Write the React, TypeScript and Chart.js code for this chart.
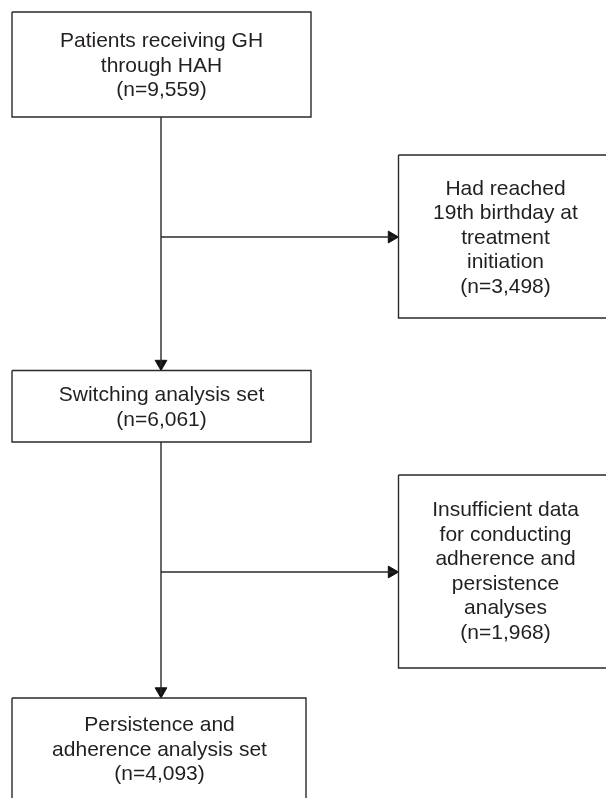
import React, { useEffect, useRef } from 'react';
import Chart from 'chart.js/auto';

// ---- content ----
const stepTitles: string[][] = [
  ['Patients receiving GH', 'through HAH'],
  ['Had reached', '19th birthday at', 'treatment', 'initiation'],
  ['Switching analysis set'],
  ['Insufficient data', 'for conducting', 'adherence and', 'persistence', 'analyses'],
  ['Persistence and', 'adherence analysis set'],
];
const stepCounts: number[] = [9559, 3498, 6061, 1968, 4093];

// ---- layout (pixel-like units on hidden linear scales 0..606 x 0..798) ----
const W = 606;
const H = 798;
const boxRects: number[][] = [
  [12, 12, 311, 117],
  [398.5, 155, 612, 318],
  [12, 370.5, 311, 442],
  [398.5, 475, 612, 668],
  [12, 698, 306, 810],
];
const textCenters: number[][] = [
  [161.5, 64.5],
  [505.5, 236.5],
  [161.5, 406],
  [505.5, 570],
  [159.5, 748.5],
];
const trunkX = 161;
const branchY = [237, 572];
const ARROW_R = 6.8;

const LINE_COLOR = '#2a2a2a';
const TEXT_COLOR = '#231f20';
const FONT = '21px "Liberation Sans", Arial, Helvetica, sans-serif';
const LINE_H = 24.5;

export default function App() {
  const ref = useRef<HTMLCanvasElement | null>(null);

  useEffect(() => {
    if (!ref.current) return;

    const lineDs = (pts: { x: number; y: number }[]) => ({
      type: 'scatter' as const,
      data: pts,
      showLine: true,
      borderColor: LINE_COLOR,
      borderWidth: 1.4,
      pointRadius: 0,
      fill: false,
      tension: 0,
    });

    const datasets: any[] = [];
    // boxes
    boxRects.forEach(([x0, y0, x1, y1]) => {
      datasets.push(
        lineDs([
          { x: x0, y: y0 },
          { x: x1, y: y0 },
          { x: x1, y: y1 },
          { x: x0, y: y1 },
          { x: x0, y: y0 },
        ])
      );
    });
    // vertical connectors
    datasets.push(lineDs([{ x: trunkX, y: boxRects[0][3] }, { x: trunkX, y: boxRects[2][1] - 4 }]));
    datasets.push(lineDs([{ x: trunkX, y: boxRects[2][3] }, { x: trunkX, y: boxRects[4][1] - 4 }]));
    // horizontal branches
    datasets.push(lineDs([{ x: trunkX, y: branchY[0] }, { x: boxRects[1][0] - 4, y: branchY[0] }]));
    datasets.push(lineDs([{ x: trunkX, y: branchY[1] }, { x: boxRects[3][0] - 4, y: branchY[1] }]));
    // arrowheads
    datasets.push({
      type: 'scatter',
      data: [
        { x: trunkX, y: boxRects[2][1] - ARROW_R },
        { x: trunkX, y: boxRects[4][1] - ARROW_R },
        { x: boxRects[1][0] - ARROW_R, y: branchY[0] },
        { x: boxRects[3][0] - ARROW_R, y: branchY[1] },
      ],
      pointStyle: 'triangle',
      rotation: [180, 180, 90, 90],
      radius: ARROW_R,
      pointRadius: ARROW_R,
      pointBackgroundColor: '#111111',
      pointBorderColor: '#111111',
      pointBorderWidth: 1,
      showLine: false,
    });

    const textPlugin = {
      id: 'boxText',
      afterDatasetsDraw(chart: any) {
        const { ctx, scales } = chart;
        const xs = scales.x;
        const ys = scales.y;
        ctx.save();
        ctx.font = FONT;
        ctx.fillStyle = TEXT_COLOR;
        ctx.textAlign = 'center';
        ctx.textBaseline = 'middle';
        stepTitles.forEach((title, i) => {
          const lines = [...title, `(n=${stepCounts[i].toLocaleString('en-US')})`];
          const [cx, cy] = textCenters[i];
          const px = xs.getPixelForValue(cx);
          const startY = cy - ((lines.length - 1) * LINE_H) / 2;
          lines.forEach((ln, j) => {
            ctx.fillText(ln, px, ys.getPixelForValue(startY + j * LINE_H) + 1.5);
          });
        });
        ctx.restore();
      },
    };

    const chart = new Chart(ref.current, {
      type: 'scatter',
      data: { datasets },
      options: {
        responsive: false,
        animation: false,
        layout: { padding: 0, autoPadding: false },
        plugins: { legend: { display: false }, tooltip: { enabled: false } },
        events: [],
        scales: {
          x: { type: 'linear', min: 0, max: W, display: false },
          y: { type: 'linear', min: 0, max: H, reverse: true, display: false },
        },
      },
      plugins: [textPlugin],
    });
    return () => chart.destroy();
  }, []);

  return (
    <div style={{ position: 'fixed', left: 0, top: 0, width: W, height: H, background: '#ffffff' }}>
      <canvas ref={ref} width={W} height={H} style={{ width: W, height: H, display: 'block' }} />
    </div>
  );
}
